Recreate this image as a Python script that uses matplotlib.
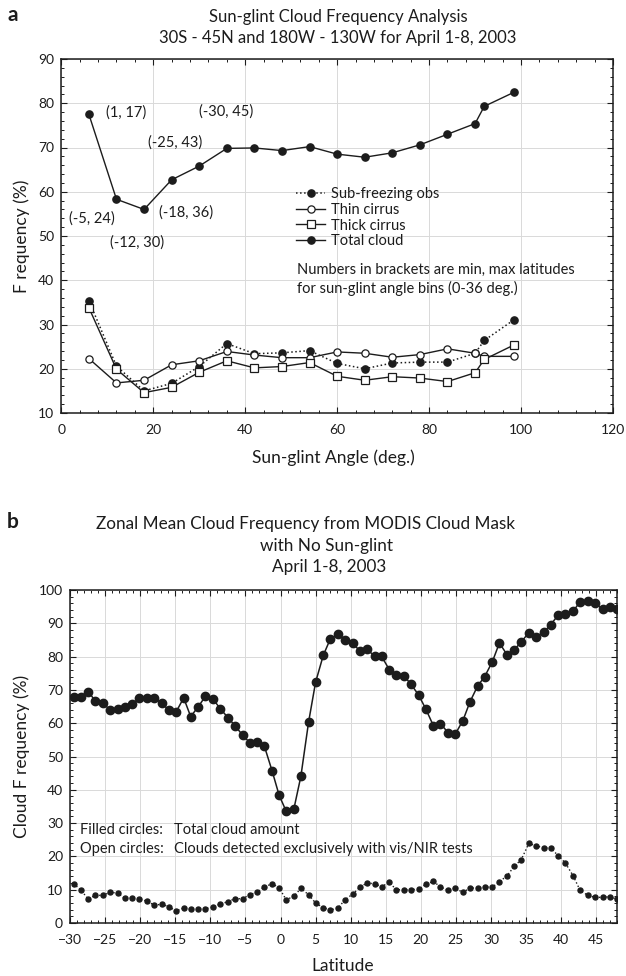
import matplotlib
matplotlib.use("Agg")
import matplotlib.pyplot as plt
from matplotlib.ticker import MultipleLocator

plt.rcParams["font.family"] = ["Lato", "DejaVu Sans"]

# ---- panel a data: sun-glint angle bins
glint_angle = [6, 12, 18, 24, 30, 36, 42, 48, 54, 60, 66, 72, 78, 84, 90, 92, 98.5]
sub_freezing = [35.4, 20.6, 15.0, 16.7, 20.5, 25.7, 23.4, 23.6, 24.1, 21.2, 20.0,
                21.3, 21.5, 21.5, 23.5, 26.4, 31.1]
thin_cirrus = [22.3, 16.8, 17.4, 20.9, 21.8, 23.9, 23.1, 22.5, 22.5, 23.8, 23.5,
               22.6, 23.2, 24.5, 23.5, 22.8, 22.8]
thick_cirrus = [33.8, 19.9, 14.6, 15.8, 19.2, 21.8, 20.2, 20.5, 21.4, 18.3, 17.4,
                18.2, 17.9, 17.1, 19.1, 22.1, 25.4]
total_cloud = [77.5, 58.3, 56.0, 62.7, 65.8, 69.8, 69.9, 69.3, 70.2, 68.5, 67.8,
               68.8, 70.6, 73.0, 75.4, 79.3, 82.5]

# latitude bin labels and where they sit (data coords)
bin_labels = ["(1, 17)", "(-30, 45)", "(-25, 43)", "(-5, 24)", "(-18, 36)", "(-12, 30)"]
bin_label_x = [14.2, 35.9, 24.8, 6.6, 27.2, 16.4]
bin_label_y = [78.0, 78.1, 71.2, 54.0, 55.3, 48.6]

# ---- panel b data: zonal mean cloud frequency
latitude = [-29.5, -28.5, -27.4, -26.4, -25.3, -24.3, -23.2, -22.2, -21.1, -20.1,
            -19.0, -18.0, -16.9, -15.9, -14.9, -13.8, -12.8, -11.7, -10.7, -9.6,
            -8.6, -7.5, -6.5, -5.4, -4.4, -3.3, -2.3, -1.2, -0.2, 0.8,
            1.9, 2.9, 4.0, 5.0, 6.1, 7.1, 8.2, 9.2, 10.3, 11.3,
            12.3, 13.4, 14.4, 15.5, 16.5, 17.6, 18.6, 19.7, 20.7, 21.8,
            22.8, 23.9, 24.9, 26.0, 27.0, 28.1, 29.1, 30.2, 31.2, 32.3,
            33.3, 34.3, 35.4, 36.4, 37.5, 38.5, 39.6, 40.6, 41.7, 42.7,
            43.8, 44.8, 45.9, 46.9, 47.9]
total_amount = [68.0, 68.0, 69.5, 66.7, 66.0, 64.0, 64.3, 65.0, 65.7, 67.5,
                67.7, 67.6, 66.0, 63.9, 63.3, 67.6, 62.0, 65.0, 68.1, 67.2,
                64.4, 61.7, 59.3, 56.4, 54.2, 54.3, 53.1, 45.7, 38.4, 33.6,
                34.2, 44.0, 60.3, 72.3, 80.4, 85.3, 86.8, 85.0, 84.0, 81.7,
                82.3, 80.1, 80.1, 76.1, 74.6, 74.2, 71.7, 68.4, 64.3, 59.2,
                59.9, 57.1, 56.7, 60.8, 66.4, 71.2, 74.0, 78.5, 84.1, 80.5,
                82.0, 84.4, 87.2, 86.0, 87.3, 89.6, 92.5, 92.7, 93.6, 96.5,
                96.7, 96.2, 94.2, 95.0, 94.3]
vis_nir_only = [11.8, 10.0, 7.2, 8.3, 8.3, 9.2, 9.0, 7.4, 7.5, 7.3,
                6.5, 5.4, 5.6, 4.9, 3.6, 4.5, 4.2, 4.2, 4.3, 4.8,
                5.7, 6.4, 7.3, 7.3, 8.5, 9.3, 10.8, 11.8, 10.6, 7.0,
                8.0, 10.4, 8.5, 6.0, 4.6, 3.9, 4.5, 7.0, 8.7, 10.7,
                12.0, 11.8, 10.9, 12.2, 10.0, 10.0, 10.0, 10.2, 11.6, 12.5,
                10.8, 9.8, 10.4, 9.2, 10.5, 10.5, 10.8, 10.8, 12.4, 14.2,
                17.0, 19.0, 23.9, 23.2, 22.6, 22.5, 20.2, 18.0, 14.2, 9.8,
                8.3, 7.7, 7.7, 7.9, 7.2]

W, H = 626, 976
INK = "#1c1c1c"


def fx(px):
    return px / W


def fy(py):
    return 1 - py / H


def style_axes(ax):
    ax.grid(True, which="major", color="#d9d9d9", lw=0.7)
    ax.set_axisbelow(True)
    ax.tick_params(which="both", direction="in", top=True, right=True,
                   labelsize=10, colors=INK)
    ax.tick_params(axis="x", pad=8)
    ax.tick_params(axis="y", pad=5)
    ax.tick_params(which="major", length=4, width=0.8)
    ax.tick_params(which="minor", length=2.5, width=0.7)
    for sp in ax.spines.values():
        sp.set_linewidth(1.1)
        sp.set_color(INK)


fig = plt.figure(figsize=(W / 100, H / 100), dpi=100)

# ---------------- panel a
ax1 = fig.add_axes([fx(61.3), fy(413), fx(613) - fx(61.3), fy(59) - fy(413)])
ms = 5.2
ax1.plot(glint_angle, sub_freezing, ls=":", color=INK, lw=1.1, marker="o",
         ms=ms, mfc=INK, mec=INK, label="Sub-freezing obs", zorder=3)
ax1.plot(glint_angle, thin_cirrus, ls="-", color=INK, lw=1.0, marker="o",
         ms=ms, mfc="white", mec=INK, mew=0.9, label="Thin cirrus", zorder=4)
ax1.plot(glint_angle, thick_cirrus, ls="-", color=INK, lw=1.0, marker="s",
         ms=ms, mfc="white", mec=INK, mew=0.9, label="Thick cirrus", zorder=4)
ax1.plot(glint_angle, total_cloud, ls="-", color=INK, lw=1.0, marker="o",
         ms=ms, mfc=INK, mec=INK, label="Total cloud", zorder=3)

for lab, x, y in zip(bin_labels, bin_label_x, bin_label_y):
    ax1.text(x, y, lab, ha="center", va="center", fontsize=10.5, color=INK)

ax1.set_xlim(0, 120)
ax1.set_ylim(10, 90)
ax1.xaxis.set_major_locator(MultipleLocator(20))
ax1.xaxis.set_minor_locator(MultipleLocator(4))
ax1.yaxis.set_major_locator(MultipleLocator(10))
ax1.yaxis.set_minor_locator(MultipleLocator(2))
style_axes(ax1)

ax1.legend(loc="upper left", bbox_to_anchor=(fx(296), fy(187)),
           bbox_transform=fig.transFigure, frameon=False, fontsize=10.5,
           borderpad=0, borderaxespad=0, handlelength=2.0, handletextpad=0.4,
           labelspacing=0.12, labelcolor=INK)
fig.text(fx(297), fy(270), "Numbers in brackets are min, max latitudes",
         ha="left", va="center", fontsize=10.5, color=INK)
fig.text(fx(297), fy(288), "for sun-glint angle bins (0-36 deg.)",
         ha="left", va="center", fontsize=10.5, color=INK)

fig.text(fx(333), fy(458), "Sun-glint Angle (deg.)", ha="center", va="center",
         fontsize=12.5, color=INK)
fig.text(fx(22), fy(236), "F requency (%)", ha="center", va="center",
         rotation=90, fontsize=12.5, color=INK)
fig.text(fx(338), fy(17), "Sun-glint Cloud Frequency Analysis", ha="center",
         va="center", fontsize=12, color=INK)
fig.text(fx(338), fy(38), "30S - 45N and 180W - 130W for April 1-8, 2003",
         ha="center", va="center", fontsize=12, color=INK)
fig.text(fx(13), fy(15), "a", ha="center", va="center", fontsize=15,
         fontweight="bold", color=INK)

# ---------------- panel b
ax2 = fig.add_axes([fx(70), fy(923), fx(617.3) - fx(70), fy(590) - fy(923)])
ax2.plot(latitude, total_amount, ls="-", color=INK, lw=1.1, marker="o", ms=6,
         mfc=INK, mec=INK, zorder=3)
ax2.plot(latitude, vis_nir_only, ls=":", color=INK, lw=1.0, marker="o", ms=3.6,
         mfc=INK, mec=INK, zorder=3)

ax2.set_xlim(-30, 48)
ax2.set_ylim(0, 100)
ax2.xaxis.set_major_locator(MultipleLocator(5))
ax2.xaxis.set_minor_locator(MultipleLocator(1))
ax2.yaxis.set_major_locator(MultipleLocator(10))
ax2.yaxis.set_minor_locator(MultipleLocator(2))
style_axes(ax2)

ax2.text(-28.6, 27.9, "Filled circles:", ha="left", va="center", fontsize=10.5, color=INK)
ax2.text(-15.2, 27.9, "Total cloud amount", ha="left", va="center", fontsize=10.5, color=INK)
ax2.text(-28.6, 22.2, "Open circles:", ha="left", va="center", fontsize=10.5, color=INK)
ax2.text(-15.2, 22.2, "Clouds detected exclusively with vis/NIR tests",
         ha="left", va="center", fontsize=10.5, color=INK)

fig.text(fx(343), fy(966), "Latitude", ha="center", va="center",
         fontsize=12.5, color=INK)
fig.text(fx(22), fy(756), "Cloud F requency (%)", ha="center", va="center",
         rotation=90, fontsize=12.5, color=INK)
fig.text(fx(305), fy(524), "Zonal Mean Cloud Frequency from MODIS Cloud Mask",
         ha="center", va="center", fontsize=12.3, color=INK)
fig.text(fx(326), fy(546), "with No Sun-glint", ha="center", va="center",
         fontsize=12.3, color=INK)
fig.text(fx(329), fy(567), "April 1-8, 2003", ha="center", va="center",
         fontsize=12.3, color=INK)
fig.text(fx(13), fy(522), "b", ha="center", va="center", fontsize=15,
         fontweight="bold", color=INK)

fig.savefig("out.png", dpi=100)
